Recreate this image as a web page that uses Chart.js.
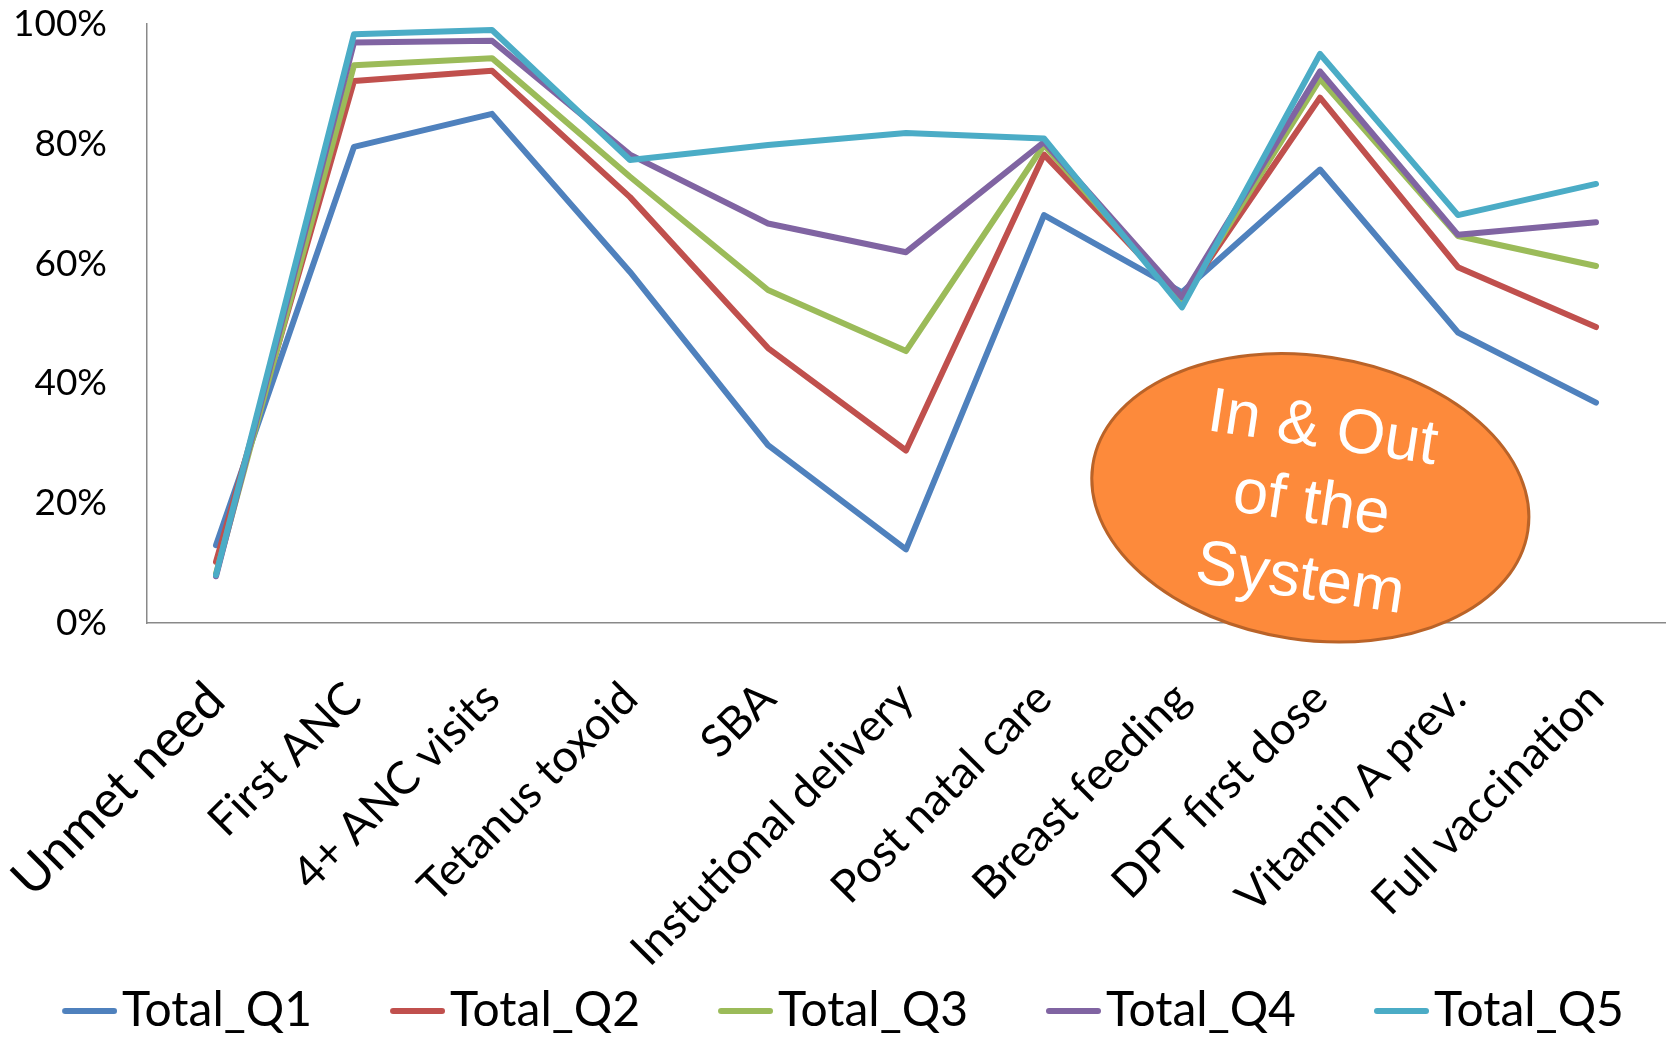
<!DOCTYPE html>
<html><head><meta charset="utf-8">
<script src="https://cdn.jsdelivr.net/npm/chart.js@4/dist/chart.umd.min.js"></script>
<style>html,body{margin:0;padding:0;background:#fff;overflow:hidden}</style>
</head><body>
<canvas id="c" width="1669" height="1038"></canvas>
<script>
const categories = ['Unmet need','First ANC','4+ ANC visits','Tetanus toxoid','SBA','Instutional delivery','Post natal care','Breast feeding','DPT first dose','Vitamin A prev.','Full vaccination'];
const seriesNames = ['Total_Q1','Total_Q2','Total_Q3','Total_Q4','Total_Q5'];
const totalQ1 = [13.0, 79.5, 85.0, 58.6, 29.7, 12.3, 68.1, 55.2, 75.7, 48.5, 36.8];
const totalQ2 = [10.2, 90.5, 92.2, 71.1, 45.9, 28.8, 78.2, 54.0, 87.7, 59.4, 49.4];
const totalQ3 = [8.2, 93.1, 94.3, 74.5, 55.6, 45.4, 79.8, 53.8, 90.8, 64.6, 59.6];
const totalQ4 = [7.8, 96.9, 97.2, 78.2, 66.7, 61.9, 80.3, 54.4, 92.1, 64.8, 66.9];
const totalQ5 = [8.0, 98.3, 99.0, 77.3, 79.8, 81.8, 80.9, 52.7, 95.0, 68.1, 73.3];
const yTickValues = [0, 20, 40, 60, 80, 100];
const bubbleLines = ['In & Out', 'of the', 'System'];
const bubbleCategoryPos = 7.93;   // position along category axis
const bubbleValue = 20.9;         // position along value axis (%)

const colors = ['#4F81BD','#C0504D','#9BBB59','#8064A2','#4BACC6'];
const seriesData = [totalQ1, totalQ2, totalQ3, totalQ4, totalQ5];

function legendSwatch(color){
  const c = document.createElement('canvas');
  c.width = 145; c.height = 10;
  const g = c.getContext('2d');
  g.strokeStyle = color; g.lineWidth = 6; g.lineCap = 'round';
  g.beginPath(); g.moveTo(93, 5); g.lineTo(142, 5); g.stroke();
  return c;
}

const bubblePlugin = {
  id: 'bubble',
  afterLayout(chart){
    // nudge the centred legend row to the left
    if (chart.legend && chart.legend.lineWidths && chart.legend.lineWidths.length) {
      chart.legend.lineWidths[0] += 50;
    }
  },
  afterDraw(chart){
    const {ctx} = chart;
    const xs = chart.scales.x, ys = chart.scales.y;
    const cx = xs.getPixelForValue(bubbleCategoryPos);
    const cy = ys.getPixelForValue(bubbleValue);
    const rot = 8.6 * Math.PI / 180;
    ctx.save();
    ctx.translate(cx, cy);
    ctx.rotate(rot);
    ctx.beginPath();
    ctx.ellipse(0, 0, 220, 142, 0, 0, Math.PI * 2);
    ctx.fillStyle = '#FD8A3B';
    ctx.fill();
    ctx.lineWidth = 3;
    ctx.strokeStyle = '#BA6328';
    ctx.stroke();
    ctx.fillStyle = '#FFFFFF';
    ctx.font = '63px "Liberation Sans", Arial, sans-serif';
    ctx.textAlign = 'center';
    ctx.textBaseline = 'alphabetic';
    const offs = [-51.5, 24.5, 100.5];
    bubbleLines.forEach((t, i) => ctx.fillText(t, 2, offs[i]));
    ctx.restore();
  }
};

function zeroPad(s){ s.paddingTop = 0; s.paddingBottom = 0; s.paddingLeft = 0; s.paddingRight = 0; }

new Chart(document.getElementById('c'), {
  type: 'line',
  data: {
    labels: categories,
    datasets: seriesNames.map((n, i) => ({
      label: n,
      data: seriesData[i],
      borderColor: colors[i],
      backgroundColor: colors[i],
      borderWidth: 6,
      tension: 0,
      pointRadius: 0,
      pointHoverRadius: 0,
      borderCapStyle: 'round',
      borderJoinStyle: 'round',
      pointStyle: legendSwatch(colors[i]),
      order: 5 - i,
      fill: false
    }))
  },
  options: {
    responsive: false,
    devicePixelRatio: 1,
    animation: false,
    layout: { padding: { top: 24, right: 4, left: 0, bottom: 0 } },
    plugins: {
      tooltip: { enabled: false },
      legend: {
        position: 'bottom',
        maxHeight: 58,
        labels: {
          usePointStyle: true,
          pointStyleWidth: 107,
          boxHeight: 10,
          padding: 7,
          color: '#000',
          font: { family: 'Lato', size: 48 },
          sort: (a, b) => a.datasetIndex - b.datasetIndex
        }
      }
    },
    scales: {
      x: {
        offset: true,
        grid: { display: false, drawTicks: false },
        border: { display: true, color: '#898989', width: 1.5 },
        ticks: {
          minRotation: 45, maxRotation: 45, autoSkip: false,
          padding: 60, color: '#000',
          font: (ctx) => ({ family: 'Lato', size: ctx.index === 0 ? 51 : 45, lineHeight: 0.5 })
        },
        afterFit: (s) => { s.height = 357; zeroPad(s); }
      },
      y: {
        min: 0, max: 100,
        grid: { display: false, drawTicks: false },
        border: { display: true, color: '#898989', width: 1.5 },
        afterBuildTicks: (s) => { s.ticks = yTickValues.map(v => ({ value: v })); },
        ticks: {
          padding: 40, color: '#000',
          font: { family: 'Lato', size: 37 },
          callback: (v) => v + '%'
        },
        afterFit: (s) => { s.width = 147; zeroPad(s); }
      }
    }
  },
  plugins: [bubblePlugin]
});
</script>
</body></html>
